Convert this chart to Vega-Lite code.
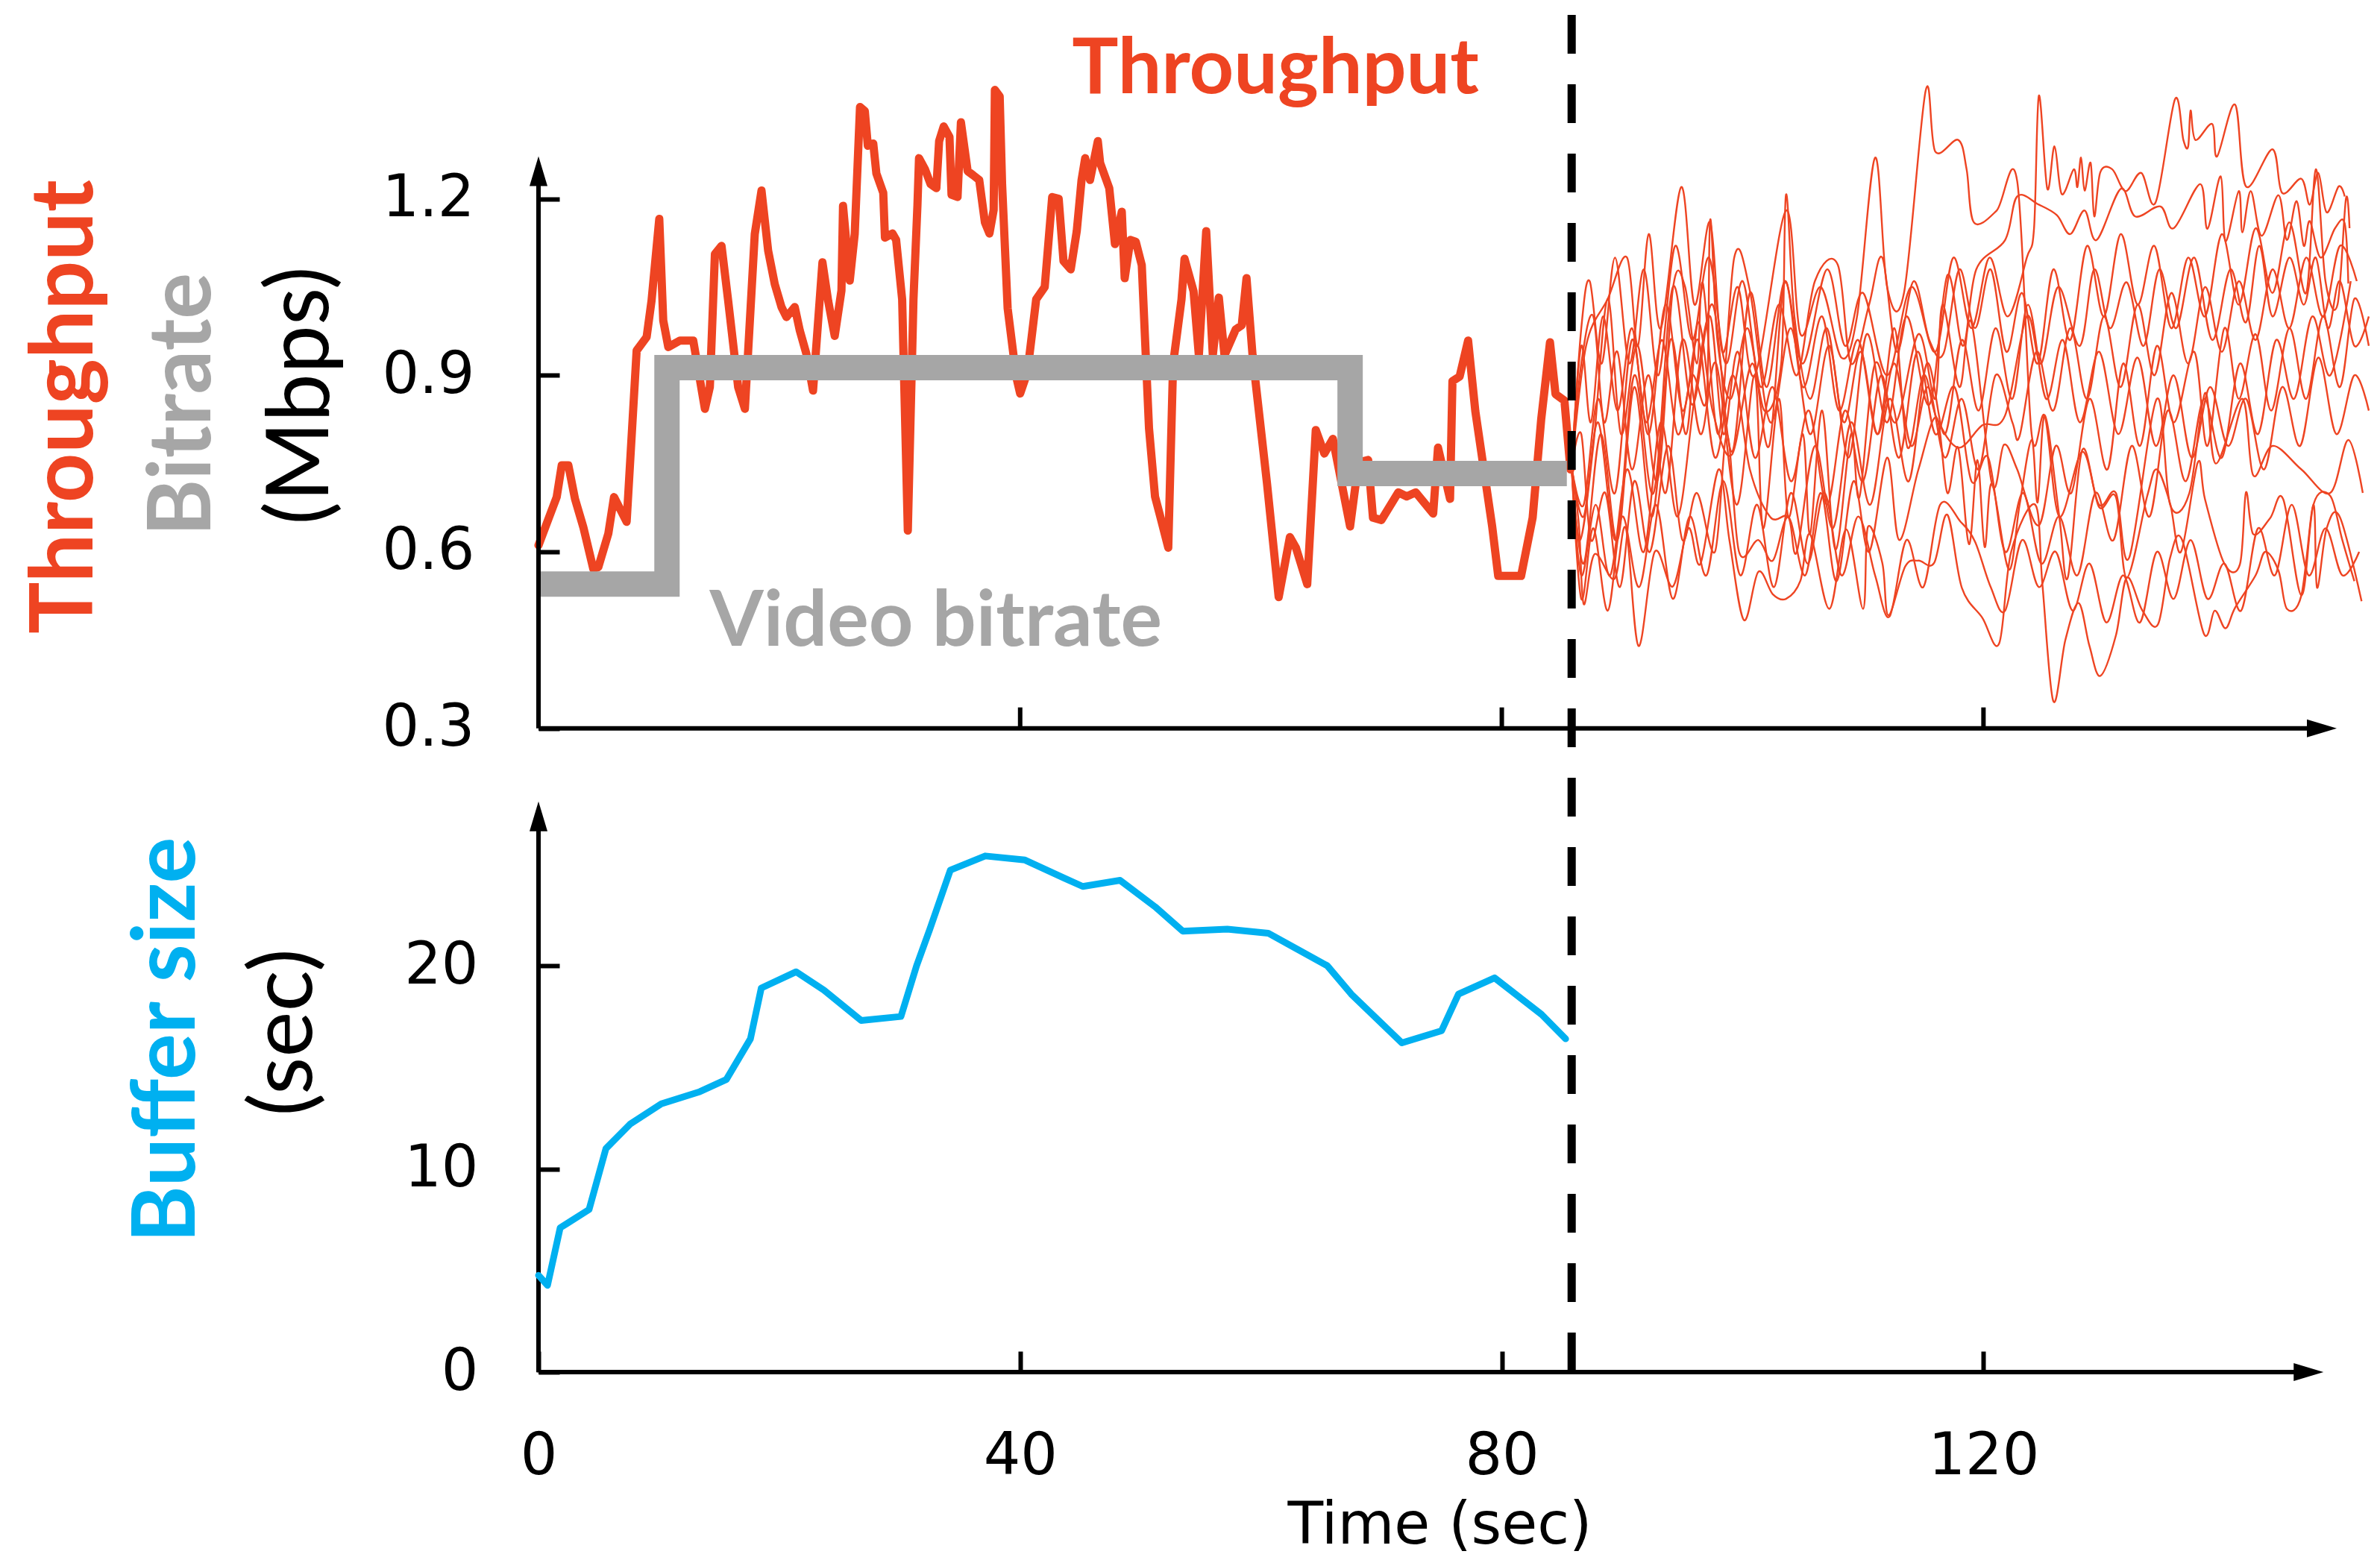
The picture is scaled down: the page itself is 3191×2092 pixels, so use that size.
{
"$schema":"https://vega.github.io/schema/vega-lite/v6.json",
"width":2469,"height":1820,
"autosize":{"type":"none"},
"padding":{"left":722,"top":20,"right":0,"bottom":252},
"background":"white",
"config":{"view":{"stroke":null},"axis":{"grid":false}},
"datasets":{
"thr":[{"t":0,"v":0.611},{"t":0.68,"v":0.648},{"t":1.51,"v":0.693},{"t":1.93,"v":0.747},{"t":2.48,"v":0.747},{"t":3.03,"v":0.69},{"t":3.72,"v":0.642},{"t":4.55,"v":0.571},{"t":4.97,"v":0.574},{"t":5.8,"v":0.631},{"t":6.27,"v":0.693},{"t":7.32,"v":0.651},{"t":8.15,"v":0.942},{"t":8.98,"v":0.965},{"t":9.39,"v":1.027},{"t":10.03,"v":1.166},{"t":10.36,"v":0.993},{"t":10.78,"v":0.948},{"t":11.74,"v":0.959},{"t":12.85,"v":0.959},{"t":13.82,"v":0.843},{"t":14.23,"v":0.88},{"t":14.65,"v":1.106},{"t":15.2,"v":1.12},{"t":15.75,"v":1.027},{"t":16.58,"v":0.88},{"t":17.14,"v":0.843},{"t":17.96,"v":1.14},{"t":18.52,"v":1.214},{"t":19.07,"v":1.112},{"t":19.62,"v":1.055},{"t":20.18,"v":1.016},{"t":20.59,"v":0.999},{"t":21.28,"v":1.016},{"t":21.7,"v":0.976},{"t":22.25,"v":0.936},{"t":22.8,"v":0.874},{"t":23.58,"v":1.092},{"t":24.05,"v":1.027},{"t":24.6,"v":0.967},{"t":25.16,"v":1.044},{"t":25.29,"v":1.188},{"t":25.85,"v":1.061},{"t":26.26,"v":1.14},{"t":26.7,"v":1.356},{"t":27.1,"v":1.349},{"t":27.35,"v":1.29},{"t":27.8,"v":1.294},{"t":28.06,"v":1.243},{"t":28.63,"v":1.21},{"t":28.77,"v":1.134},{"t":29.4,"v":1.141},{"t":29.7,"v":1.13},{"t":30.2,"v":1.029},{"t":30.67,"v":0.636},{"t":31.14,"v":1.029},{"t":31.47,"v":1.189},{"t":31.6,"v":1.269},{"t":32.1,"v":1.25},{"t":32.56,"v":1.225},{"t":33.04,"v":1.218},{"t":33.27,"v":1.298},{"t":33.65,"v":1.323},{"t":34.13,"v":1.305},{"t":34.3,"v":1.207},{"t":34.8,"v":1.203},{"t":35.08,"v":1.33},{"t":35.64,"v":1.247},{"t":36.1,"v":1.24},{"t":36.6,"v":1.232},{"t":37.07,"v":1.16},{"t":37.45,"v":1.141},{"t":37.8,"v":1.181},{"t":37.9,"v":1.385},{"t":38.3,"v":1.374},{"t":38.5,"v":1.225},{"t":38.96,"v":1.014},{"t":39.67,"v":0.898},{"t":40,"v":0.869},{"t":40.6,"v":0.905},{"t":41.33,"v":1.029},{"t":42.04,"v":1.05},{"t":42.66,"v":1.203},{"t":43.2,"v":1.2},{"t":43.6,"v":1.094},{"t":44.2,"v":1.08},{"t":44.7,"v":1.145},{"t":45.1,"v":1.232},{"t":45.4,"v":1.269},{"t":45.8,"v":1.232},{"t":46.45,"v":1.298},{"t":46.64,"v":1.261},{"t":47.4,"v":1.218},{"t":47.87,"v":1.123},{"t":48.44,"v":1.178},{"t":48.68,"v":1.065},{"t":49.15,"v":1.13},{"t":49.6,"v":1.127},{"t":50.1,"v":1.087},{"t":50.7,"v":0.81},{"t":51.2,"v":0.694},{"t":51.66,"v":0.658},{"t":52.3,"v":0.607},{"t":52.7,"v":0.919},{"t":53.4,"v":1.029},{"t":53.65,"v":1.098},{"t":54.4,"v":1.043},{"t":54.84,"v":0.934},{"t":55.45,"v":1.145},{"t":56,"v":0.934},{"t":56.5,"v":1.032},{"t":56.97,"v":0.934},{"t":57.9,"v":0.978},{"t":58.4,"v":0.985},{"t":58.8,"v":1.065},{"t":59.3,"v":0.934},{"t":60.5,"v":0.716},{"t":61.47,"v":0.523},{"t":62.4,"v":0.625},{"t":62.9,"v":0.607},{"t":63.84,"v":0.545},{"t":64.55,"v":0.807},{"t":65.26,"v":0.767},{"t":65.97,"v":0.792},{"t":67.4,"v":0.643},{"t":68.1,"v":0.752},{"t":68.9,"v":0.756},{"t":69.3,"v":0.658},{"t":70,"v":0.654},{"t":71.4,"v":0.701},{"t":72.1,"v":0.694},{"t":72.85,"v":0.701},{"t":74.3,"v":0.665},{"t":74.7,"v":0.777},{"t":75.7,"v":0.69},{"t":75.9,"v":0.89},{"t":76.5,"v":0.898},{"t":77.2,"v":0.959},{"t":77.8,"v":0.839},{"t":79.2,"v":0.643},{"t":79.7,"v":0.559},{"t":81.6,"v":0.559},{"t":82.56,"v":0.658},{"t":83.27,"v":0.825},{"t":84,"v":0.956},{"t":84.46,"v":0.868},{"t":85.2,"v":0.857},{"t":85.7,"v":0.74}],
"buf":[{"t":0,"v":4.76},{"t":0.75,"v":4.27},{"t":1.8,"v":7.1},{"t":4.2,"v":8.0},{"t":5.6,"v":11.0},{"t":7.6,"v":12.2},{"t":10.2,"v":13.2},{"t":13.4,"v":13.8},{"t":15.6,"v":14.4},{"t":17.6,"v":16.4},{"t":18.5,"v":18.9},{"t":21.4,"v":19.7},{"t":23.7,"v":18.8},{"t":26.8,"v":17.3},{"t":30.1,"v":17.5},{"t":31.4,"v":20.0},{"t":32.5,"v":21.8},{"t":34.2,"v":24.7},{"t":37.1,"v":25.4},{"t":40.4,"v":25.2},{"t":43.7,"v":24.3},{"t":45.2,"v":23.9},{"t":48.3,"v":24.2},{"t":51.2,"v":22.9},{"t":53.5,"v":21.7},{"t":57.2,"v":21.8},{"t":60.6,"v":21.6},{"t":65.5,"v":20.0},{"t":67.5,"v":18.6},{"t":71.7,"v":16.2},{"t":75.0,"v":16.8},{"t":76.4,"v":18.6},{"t":79.4,"v":19.4},{"t":83.3,"v":17.6},{"t":85.3,"v":16.4}],
"bit":[{"t":0,"v":0.545},{"t":10.67,"v":0.913},{"t":67.4,"v":0.733},{"t":85.4,"v":0.733}],
"thin":[
{"run":1,"t":85.8,"v":0.744},{"run":1,"t":87.0,"v":0.95},{"run":1,"t":88.8,"v":1.03},{"run":1,"t":90.4,"v":1.1},{"run":1,"t":91.3,"v":0.95},{"run":1,"t":92.2,"v":1.14},{"run":1,"t":93.2,"v":0.98},{"run":1,"t":94.9,"v":1.22},{"run":1,"t":96.0,"v":1.02},{"run":1,"t":97.3,"v":1.16},{"run":1,"t":98.3,"v":0.94},{"run":1,"t":99.6,"v":1.05},{"run":1,"t":101.0,"v":0.9},{"run":1,"t":103.6,"v":1.18},{"run":1,"t":104.8,"v":0.97},{"run":1,"t":106.5,"v":1.05},{"run":1,"t":108.2,"v":0.93},{"run":1,"t":109.5,"v":1.0},{"run":1,"t":111.0,"v":1.27},{"run":1,"t":112.0,"v":1.05},{"run":1,"t":113.4,"v":1.04},{"run":1,"t":115.2,"v":1.384},{"run":1,"t":116.0,"v":1.28},{"run":1,"t":117.9,"v":1.3},{"run":1,"t":118.6,"v":1.25},{"run":1,"t":119.2,"v":1.16},{"run":1,"t":121.1,"v":1.18},{"run":1,"t":122.8,"v":1.23},{"run":1,"t":124.0,"v":0.8},{"run":1,"t":125.1,"v":0.83},{"run":1,"t":126.3,"v":0.66},{"run":1,"t":128.2,"v":0.77},{"run":1,"t":129.6,"v":0.68},{"run":1,"t":131.0,"v":0.7},{"run":1,"t":132.1,"v":0.59},{"run":1,"t":134.4,"v":0.86},{"run":1,"t":135.5,"v":0.68},{"run":1,"t":137.1,"v":0.7},{"run":1,"t":138.4,"v":0.87},{"run":1,"t":139.3,"v":0.75},{"run":1,"t":141.5,"v":0.86},{"run":1,"t":142.4,"v":0.73},{"run":1,"t":144.0,"v":0.78},{"run":1,"t":146.4,"v":0.74},{"run":1,"t":148.8,"v":0.7},{"run":1,"t":150.3,"v":0.79},{"run":1,"t":151.5,"v":0.7},
{"run":2,"t":85.8,"v":0.744},{"run":2,"t":86.8,"v":0.66},{"run":2,"t":88.0,"v":0.82},{"run":2,"t":89.5,"v":0.62},{"run":2,"t":91.0,"v":0.9},{"run":2,"t":92.6,"v":0.7},{"run":2,"t":94.2,"v":1.05},{"run":2,"t":95.8,"v":0.85},{"run":2,"t":97.5,"v":1.02},{"run":2,"t":99.1,"v":0.77},{"run":2,"t":100.6,"v":1.04},{"run":2,"t":102.0,"v":0.88},{"run":2,"t":103.5,"v":1.06},{"run":2,"t":105.0,"v":0.92},{"run":2,"t":107.0,"v":1.08},{"run":2,"t":108.5,"v":0.95},{"run":2,"t":110.0,"v":1.04},{"run":2,"t":112.0,"v":0.9},{"run":2,"t":114.0,"v":1.05},{"run":2,"t":116.0,"v":0.94},{"run":2,"t":117.5,"v":1.1},{"run":2,"t":119.0,"v":0.98},{"run":2,"t":120.5,"v":1.1},{"run":2,"t":122.0,"v":1.0},{"run":2,"t":123.6,"v":1.1},{"run":2,"t":124.2,"v":1.15},{"run":2,"t":124.6,"v":1.375},{"run":2,"t":125.3,"v":1.217},{"run":2,"t":125.9,"v":1.289},{"run":2,"t":126.5,"v":1.208},{"run":2,"t":127.5,"v":1.25},{"run":2,"t":127.8,"v":1.22},{"run":2,"t":128.1,"v":1.27},{"run":2,"t":128.4,"v":1.214},{"run":2,"t":128.9,"v":1.261},{"run":2,"t":129.2,"v":1.17},{"run":2,"t":129.7,"v":1.245},{"run":2,"t":130.7,"v":1.25},{"run":2,"t":131.8,"v":1.213},{"run":2,"t":133.1,"v":1.244},{"run":2,"t":134.3,"v":1.194},{"run":2,"t":135.9,"v":1.369},{"run":2,"t":136.6,"v":1.3},{"run":2,"t":137.0,"v":1.289},{"run":2,"t":137.2,"v":1.35},{"run":2,"t":137.6,"v":1.3},{"run":2,"t":139.0,"v":1.327},{"run":2,"t":139.4,"v":1.272},{"run":2,"t":140.9,"v":1.36},{"run":2,"t":141.8,"v":1.221},{"run":2,"t":144.0,"v":1.284},{"run":2,"t":144.8,"v":1.21},{"run":2,"t":146.4,"v":1.234},{"run":2,"t":147.1,"v":1.19},{"run":2,"t":147.8,"v":1.244},{"run":2,"t":148.5,"v":1.177},{"run":2,"t":149.5,"v":1.221},{"run":2,"t":150.0,"v":1.204},
{"run":3,"t":85.8,"v":0.744},{"run":3,"t":86.5,"v":0.62},{"run":3,"t":87.6,"v":0.78},{"run":3,"t":88.8,"v":1.03},{"run":3,"t":89.9,"v":0.8},{"run":3,"t":91.3,"v":0.95},{"run":3,"t":92.9,"v":0.72},{"run":3,"t":94.2,"v":1.046},{"run":3,"t":95.2,"v":1.052},{"run":3,"t":96.2,"v":0.92},{"run":3,"t":96.7,"v":1.056},{"run":3,"t":98.0,"v":0.8},{"run":3,"t":99.3,"v":1.1},{"run":3,"t":100.6,"v":1.044},{"run":3,"t":102.3,"v":0.82},{"run":3,"t":104.0,"v":0.98},{"run":3,"t":105.6,"v":0.8},{"run":3,"t":107.2,"v":0.95},{"run":3,"t":108.8,"v":0.76},{"run":3,"t":110.3,"v":0.97},{"run":3,"t":112.0,"v":0.82},{"run":3,"t":113.6,"v":1.0},{"run":3,"t":115.5,"v":0.85},{"run":3,"t":117.0,"v":1.07},{"run":3,"t":118.3,"v":0.95},{"run":3,"t":119.4,"v":1.08},{"run":3,"t":121.8,"v":1.13},{"run":3,"t":122.8,"v":1.204},{"run":3,"t":124.6,"v":1.19},{"run":3,"t":126.1,"v":1.172},{"run":3,"t":127.2,"v":1.14},{"run":3,"t":128.4,"v":1.18},{"run":3,"t":129.4,"v":1.13},{"run":3,"t":131.4,"v":1.217},{"run":3,"t":132.6,"v":1.17},{"run":3,"t":134.7,"v":1.187},{"run":3,"t":135.8,"v":1.15},{"run":3,"t":138.0,"v":1.225},{"run":3,"t":138.6,"v":1.149},{"run":3,"t":139.7,"v":1.238},{"run":3,"t":140.1,"v":1.128},{"run":3,"t":141.2,"v":1.213},{"run":3,"t":141.5,"v":1.143},{"run":3,"t":142.2,"v":1.213},{"run":3,"t":143.1,"v":1.137},{"run":3,"t":144.5,"v":1.206},{"run":3,"t":145.2,"v":1.13},{"run":3,"t":146.0,"v":1.196},{"run":3,"t":146.6,"v":1.12},{"run":3,"t":147.1,"v":1.162},{"run":3,"t":148.0,"v":1.1},{"run":3,"t":149.2,"v":1.15},{"run":3,"t":150.0,"v":1.158},{"run":3,"t":150.3,"v":1.056},
{"run":4,"t":85.8,"v":0.744},{"run":4,"t":86.8,"v":0.58},{"run":4,"t":88.2,"v":0.8},{"run":4,"t":89.6,"v":0.62},{"run":4,"t":91.0,"v":0.88},{"run":4,"t":92.5,"v":0.66},{"run":4,"t":94.0,"v":0.96},{"run":4,"t":95.3,"v":0.8},{"run":4,"t":96.3,"v":0.99},{"run":4,"t":97.5,"v":0.84},{"run":4,"t":99.1,"v":0.765},{"run":4,"t":100.8,"v":0.92},{"run":4,"t":102.2,"v":0.78},{"run":4,"t":103.5,"v":1.058},{"run":4,"t":105.0,"v":0.88},{"run":4,"t":106.6,"v":1.0},{"run":4,"t":108.0,"v":0.84},{"run":4,"t":109.6,"v":0.96},{"run":4,"t":111.2,"v":0.8},{"run":4,"t":112.6,"v":0.98},{"run":4,"t":113.7,"v":0.777},{"run":4,"t":115.0,"v":0.9},{"run":4,"t":116.1,"v":0.828},{"run":4,"t":117.9,"v":0.777},{"run":4,"t":119.9,"v":0.815},{"run":4,"t":121.8,"v":0.832},{"run":4,"t":123.6,"v":1.0},{"run":4,"t":124.8,"v":0.92},{"run":4,"t":126.2,"v":1.05},{"run":4,"t":128.0,"v":0.95},{"run":4,"t":129.2,"v":1.08},{"run":4,"t":130.5,"v":0.98},{"run":4,"t":131.9,"v":1.058},{"run":4,"t":133.3,"v":0.95},{"run":4,"t":134.6,"v":1.08},{"run":4,"t":136.0,"v":0.98},{"run":4,"t":137.5,"v":1.1},{"run":4,"t":139.0,"v":0.96},{"run":4,"t":140.5,"v":1.08},{"run":4,"t":141.8,"v":0.99},{"run":4,"t":142.9,"v":1.12},{"run":4,"t":144.0,"v":1.0},{"run":4,"t":145.4,"v":1.1},{"run":4,"t":146.6,"v":1.02},{"run":4,"t":147.6,"v":1.1},{"run":4,"t":148.6,"v":0.98},{"run":4,"t":149.6,"v":1.06},{"run":4,"t":150.8,"v":0.95},{"run":4,"t":152.0,"v":1.0},
{"run":5,"t":85.8,"v":0.744},{"run":5,"t":86.6,"v":0.92},{"run":5,"t":87.6,"v":1.0},{"run":5,"t":88.5,"v":0.82},{"run":5,"t":89.6,"v":0.94},{"run":5,"t":90.8,"v":0.74},{"run":5,"t":92.2,"v":0.9},{"run":5,"t":93.6,"v":0.7},{"run":5,"t":95.0,"v":0.96},{"run":5,"t":96.5,"v":0.8},{"run":5,"t":97.8,"v":0.92},{"run":5,"t":99.5,"v":0.68},{"run":5,"t":101.0,"v":0.9},{"run":5,"t":101.7,"v":0.64},{"run":5,"t":103.0,"v":0.86},{"run":5,"t":103.8,"v":0.659},{"run":5,"t":105.0,"v":0.8},{"run":5,"t":105.6,"v":0.63},{"run":5,"t":106.6,"v":0.84},{"run":5,"t":107.7,"v":0.604},{"run":5,"t":109.0,"v":0.8},{"run":5,"t":109.7,"v":0.693},{"run":5,"t":111.0,"v":0.92},{"run":5,"t":112.7,"v":0.82},{"run":5,"t":114.6,"v":0.97},{"run":5,"t":116.0,"v":0.86},{"run":5,"t":116.6,"v":1.02},{"run":5,"t":118.0,"v":0.88},{"run":5,"t":119.0,"v":0.99},{"run":5,"t":120.7,"v":0.716},{"run":5,"t":121.7,"v":0.782},{"run":5,"t":122.8,"v":0.74},{"run":5,"t":124.6,"v":0.645},{"run":5,"t":126.0,"v":0.78},{"run":5,"t":127.3,"v":0.7},{"run":5,"t":128.8,"v":0.86},{"run":5,"t":130.3,"v":0.74},{"run":5,"t":131.6,"v":0.92},{"run":5,"t":133.0,"v":0.78},{"run":5,"t":134.4,"v":0.95},{"run":5,"t":135.8,"v":0.82},{"run":5,"t":137.5,"v":0.94},{"run":5,"t":138.6,"v":0.78},{"run":5,"t":140.0,"v":0.98},{"run":5,"t":141.2,"v":0.86},{"run":5,"t":142.6,"v":0.97},{"run":5,"t":143.9,"v":0.84},{"run":5,"t":145.4,"v":0.98},{"run":5,"t":146.8,"v":0.86},{"run":5,"t":148.2,"v":1.0},{"run":5,"t":149.6,"v":0.88},{"run":5,"t":150.8,"v":1.03},{"run":5,"t":152.0,"v":0.95},
{"run":6,"t":85.8,"v":0.744},{"run":6,"t":86.4,"v":0.646},{"run":6,"t":86.8,"v":0.511},{"run":6,"t":87.7,"v":0.596},{"run":6,"t":89.35,"v":0.554},{"run":6,"t":90.3,"v":0.64},{"run":6,"t":91.35,"v":0.44},{"run":6,"t":92.7,"v":0.6},{"run":6,"t":94.2,"v":0.541},{"run":6,"t":95.5,"v":0.64},{"run":6,"t":96.5,"v":0.58},{"run":6,"t":98.0,"v":0.74},{"run":6,"t":98.9,"v":0.62},{"run":6,"t":100.1,"v":0.484},{"run":6,"t":101.3,"v":0.566},{"run":6,"t":102.5,"v":0.528},{"run":6,"t":103.6,"v":0.52},{"run":6,"t":104.8,"v":0.551},{"run":6,"t":105.6,"v":0.63},{"run":6,"t":107.2,"v":0.503},{"run":6,"t":108.6,"v":0.638},{"run":6,"t":110.0,"v":0.503},{"run":6,"t":110.4,"v":0.642},{"run":6,"t":111.6,"v":0.581},{"run":6,"t":112.1,"v":0.492},{"run":6,"t":113.5,"v":0.575},{"run":6,"t":114.6,"v":0.585},{"run":6,"t":115.9,"v":0.581},{"run":6,"t":117.0,"v":0.663},{"run":6,"t":118.2,"v":0.539},{"run":6,"t":119.9,"v":0.488},{"run":6,"t":121.3,"v":0.444},{"run":6,"t":122.3,"v":0.6},{"run":6,"t":124.3,"v":0.68},{"run":6,"t":124.9,"v":0.543},{"run":6,"t":125.8,"v":0.346},{"run":6,"t":126.8,"v":0.45},{"run":6,"t":127.9,"v":0.513},{"run":6,"t":128.8,"v":0.44},{"run":6,"t":129.7,"v":0.389},{"run":6,"t":131.0,"v":0.458},{"run":6,"t":131.9,"v":0.556},{"run":6,"t":133.2,"v":0.5},{"run":6,"t":134.5,"v":0.477},{"run":6,"t":135.5,"v":0.59},{"run":6,"t":136.5,"v":0.62},{"run":6,"t":138.3,"v":0.461},{"run":6,"t":139.2,"v":0.5},{"run":6,"t":140.1,"v":0.47},{"run":6,"t":140.9,"v":0.505},{"run":6,"t":142.6,"v":0.56},{"run":6,"t":143.4,"v":0.6},{"run":6,"t":144.5,"v":0.568},{"run":6,"t":145.2,"v":0.503},{"run":6,"t":146.4,"v":0.526},{"run":6,"t":147.4,"v":0.68},{"run":6,"t":147.7,"v":0.539},{"run":6,"t":148.5,"v":0.64},{"run":6,"t":149.6,"v":0.659},{"run":6,"t":151.4,"v":0.516},
{"run":7,"t":85.8,"v":0.744},{"run":7,"t":86.6,"v":0.8},{"run":7,"t":87.4,"v":0.62},{"run":7,"t":88.6,"v":0.7},{"run":7,"t":89.8,"v":0.54},{"run":7,"t":91.0,"v":0.72},{"run":7,"t":92.3,"v":0.6},{"run":7,"t":93.8,"v":0.78},{"run":7,"t":95.0,"v":0.62},{"run":7,"t":96.2,"v":0.7},{"run":7,"t":97.7,"v":0.6},{"run":7,"t":98.7,"v":0.8},{"run":7,"t":99.7,"v":0.6},{"run":7,"t":101.3,"v":0.62},{"run":7,"t":102.5,"v":0.585},{"run":7,"t":103.8,"v":0.659},{"run":7,"t":105.2,"v":0.56},{"run":7,"t":106.5,"v":0.7},{"run":7,"t":107.8,"v":0.55},{"run":7,"t":109.2,"v":0.72},{"run":7,"t":110.5,"v":0.6},{"run":7,"t":112.0,"v":0.76},{"run":7,"t":113.0,"v":0.62},{"run":7,"t":114.6,"v":0.74},{"run":7,"t":116.1,"v":0.828},{"run":7,"t":117.0,"v":0.7},{"run":7,"t":117.9,"v":0.777},{"run":7,"t":118.8,"v":0.613},{"run":7,"t":119.5,"v":0.756},{"run":7,"t":120.1,"v":0.608},{"run":7,"t":120.7,"v":0.716},{"run":7,"t":122.1,"v":0.57},{"run":7,"t":123.0,"v":0.68},{"run":7,"t":124.0,"v":0.79},{"run":7,"t":124.5,"v":0.684},{"run":7,"t":125.1,"v":0.832},{"run":7,"t":126.3,"v":0.659},{"run":7,"t":127.0,"v":0.556},{"run":7,"t":128.2,"v":0.773},{"run":7,"t":129.6,"v":0.676},{"run":7,"t":131.0,"v":0.693},{"run":7,"t":131.9,"v":0.556},{"run":7,"t":133.6,"v":0.695},{"run":7,"t":134.4,"v":0.74},{"run":7,"t":135.5,"v":0.682},{"run":7,"t":136.4,"v":0.6},{"run":7,"t":137.8,"v":0.752},{"run":7,"t":138.4,"v":0.689},{"run":7,"t":140.0,"v":0.58},{"run":7,"t":141.3,"v":0.579},{"run":7,"t":141.8,"v":0.701},{"run":7,"t":142.4,"v":0.63},{"run":7,"t":143.8,"v":0.657},{"run":7,"t":144.9,"v":0.689},{"run":7,"t":146.4,"v":0.526},{"run":7,"t":147.4,"v":0.68},{"run":7,"t":148.8,"v":0.695},{"run":7,"t":149.8,"v":0.62},{"run":7,"t":150.8,"v":0.55},
{"run":8,"t":85.8,"v":0.744},{"run":8,"t":86.8,"v":0.68},{"run":8,"t":88.0,"v":0.86},{"run":8,"t":89.4,"v":0.7},{"run":8,"t":90.8,"v":0.96},{"run":8,"t":92.2,"v":0.8},{"run":8,"t":93.6,"v":1.02},{"run":8,"t":95.0,"v":0.84},{"run":8,"t":96.3,"v":0.96},{"run":8,"t":97.7,"v":0.76},{"run":8,"t":99.2,"v":0.9},{"run":8,"t":100.6,"v":0.74},{"run":8,"t":102.3,"v":0.659},{"run":8,"t":103.8,"v":0.659},{"run":8,"t":104.5,"v":0.6},{"run":8,"t":106.0,"v":0.78},{"run":8,"t":107.5,"v":0.64},{"run":8,"t":109.0,"v":0.82},{"run":8,"t":110.6,"v":0.68},{"run":8,"t":112.2,"v":0.86},{"run":8,"t":113.8,"v":0.72},{"run":8,"t":115.3,"v":0.92},{"run":8,"t":116.8,"v":0.8},{"run":8,"t":118.2,"v":0.96},{"run":8,"t":119.6,"v":0.84},{"run":8,"t":121.0,"v":0.98},{"run":8,"t":122.4,"v":0.86},{"run":8,"t":123.7,"v":1.02},{"run":8,"t":125.2,"v":0.86},{"run":8,"t":126.6,"v":0.96},{"run":8,"t":128.0,"v":0.82},{"run":8,"t":129.6,"v":0.94},{"run":8,"t":131.2,"v":0.8},{"run":8,"t":132.8,"v":0.93},{"run":8,"t":134.3,"v":0.78},{"run":8,"t":135.8,"v":0.9},{"run":8,"t":137.3,"v":0.76},{"run":8,"t":138.8,"v":0.88},{"run":8,"t":140.3,"v":0.78},{"run":8,"t":141.8,"v":0.86},{"run":8,"t":143.3,"v":0.74},{"run":8,"t":144.8,"v":0.88},{"run":8,"t":146.3,"v":0.78},{"run":8,"t":147.8,"v":0.93},{"run":8,"t":149.3,"v":0.8},{"run":8,"t":150.8,"v":0.9},{"run":8,"t":152.0,"v":0.84},
{"run":9,"t":85.8,"v":0.744},{"run":9,"t":86.6,"v":0.98},{"run":9,"t":87.3,"v":1.06},{"run":9,"t":88.3,"v":0.92},{"run":9,"t":89.4,"v":1.1},{"run":9,"t":90.6,"v":0.92},{"run":9,"t":91.8,"v":1.08},{"run":9,"t":93.0,"v":0.9},{"run":9,"t":94.4,"v":1.12},{"run":9,"t":95.8,"v":0.96},{"run":9,"t":97.2,"v":1.1},{"run":9,"t":98.6,"v":0.92},{"run":9,"t":100.0,"v":1.06},{"run":9,"t":101.5,"v":0.88},{"run":9,"t":103.0,"v":1.02},{"run":9,"t":104.5,"v":0.9},{"run":9,"t":106.0,"v":1.06},{"run":9,"t":107.9,"v":1.088},{"run":9,"t":109.0,"v":0.92},{"run":9,"t":110.5,"v":1.02},{"run":9,"t":111.6,"v":1.1},{"run":9,"t":112.8,"v":0.94},{"run":9,"t":114.2,"v":1.06},{"run":9,"t":115.5,"v":0.96},{"run":9,"t":116.7,"v":0.938},{"run":9,"t":118.0,"v":1.08},{"run":9,"t":119.3,"v":0.98},{"run":9,"t":120.6,"v":1.08},{"run":9,"t":121.9,"v":0.94},{"run":9,"t":123.2,"v":1.04},{"run":9,"t":124.5,"v":0.92},{"run":9,"t":125.8,"v":1.08},{"run":9,"t":127.2,"v":0.96},{"run":9,"t":128.6,"v":1.12},{"run":9,"t":130.0,"v":1.0},{"run":9,"t":131.4,"v":1.14},{"run":9,"t":132.8,"v":1.02},{"run":9,"t":134.2,"v":1.12},{"run":9,"t":135.6,"v":0.98},{"run":9,"t":137.0,"v":1.1},{"run":9,"t":138.4,"v":1.0},{"run":9,"t":139.8,"v":1.14},{"run":9,"t":141.2,"v":1.02},{"run":9,"t":142.6,"v":1.15},{"run":9,"t":144.0,"v":1.04},{"run":9,"t":145.4,"v":1.16},{"run":9,"t":146.8,"v":1.04},{"run":9,"t":147.6,"v":1.25},{"run":9,"t":148.4,"v":1.06},{"run":9,"t":149.4,"v":1.02},{"run":9,"t":150.1,"v":1.2},{"run":9,"t":150.4,"v":1.15},
{"run":10,"t":85.8,"v":0.744},{"run":10,"t":86.6,"v":0.56},{"run":10,"t":87.8,"v":0.68},{"run":10,"t":89.0,"v":0.56},{"run":10,"t":90.4,"v":0.74},{"run":10,"t":91.8,"v":0.6},{"run":10,"t":93.2,"v":0.82},{"run":10,"t":94.6,"v":0.66},{"run":10,"t":96.0,"v":0.86},{"run":10,"t":97.3,"v":1.0},{"run":10,"t":98.4,"v":0.8},{"run":10,"t":99.6,"v":0.94},{"run":10,"t":101.0,"v":0.76},{"run":10,"t":102.5,"v":0.88},{"run":10,"t":104.0,"v":0.72},{"run":10,"t":105.5,"v":0.84},{"run":10,"t":107.0,"v":0.68},{"run":10,"t":108.5,"v":0.84},{"run":10,"t":110.0,"v":0.72},{"run":10,"t":111.5,"v":0.9},{"run":10,"t":113.0,"v":0.76},{"run":10,"t":114.5,"v":0.94},{"run":10,"t":116.0,"v":0.8},{"run":10,"t":117.6,"v":0.88},{"run":10,"t":119.0,"v":0.72},{"run":10,"t":120.4,"v":0.76},{"run":10,"t":121.8,"v":0.6},{"run":10,"t":123.3,"v":0.7},{"run":10,"t":124.8,"v":0.58},{"run":10,"t":126.3,"v":0.66},{"run":10,"t":127.8,"v":0.56},{"run":10,"t":129.3,"v":0.7},{"run":10,"t":130.8,"v":0.62},{"run":10,"t":132.3,"v":0.78},{"run":10,"t":133.8,"v":0.66},{"run":10,"t":135.3,"v":0.84},{"run":10,"t":136.8,"v":0.72},{"run":10,"t":138.3,"v":0.86},{"run":10,"t":139.8,"v":0.76},{"run":10,"t":141.3,"v":0.92},{"run":10,"t":142.8,"v":0.8},{"run":10,"t":144.3,"v":0.96},{"run":10,"t":145.8,"v":0.86},{"run":10,"t":147.3,"v":1.0},{"run":10,"t":148.8,"v":0.9},{"run":10,"t":150.5,"v":1.06},
{"run":11,"t":85.8,"v":0.744},{"run":11,"t":86.6,"v":0.52},{"run":11,"t":87.6,"v":0.64},{"run":11,"t":88.8,"v":0.5},{"run":11,"t":90.0,"v":0.66},{"run":11,"t":91.4,"v":0.54},{"run":11,"t":92.8,"v":0.68},{"run":11,"t":94.2,"v":0.52},{"run":11,"t":95.6,"v":0.66},{"run":11,"t":97.0,"v":0.56},{"run":11,"t":98.4,"v":0.72},{"run":11,"t":99.8,"v":0.56},{"run":11,"t":101.2,"v":0.68},{"run":11,"t":102.6,"v":0.54},{"run":11,"t":104.0,"v":0.7},{"run":11,"t":105.4,"v":0.58},{"run":11,"t":106.8,"v":0.7},{"run":11,"t":108.2,"v":0.56},{"run":11,"t":109.6,"v":0.66},{"run":11,"t":111.0,"v":0.56},{"run":11,"t":112.2,"v":0.49},{"run":11,"t":113.6,"v":0.62},{"run":11,"t":115.0,"v":0.54},{"run":11,"t":116.4,"v":0.68},{"run":11,"t":118.1,"v":0.651},{"run":11,"t":119.3,"v":0.617},{"run":11,"t":120.6,"v":0.54},{"run":11,"t":121.8,"v":0.5},{"run":11,"t":123.2,"v":0.62},{"run":11,"t":124.6,"v":0.54},{"run":11,"t":126.0,"v":0.6},{"run":11,"t":127.4,"v":0.5},{"run":11,"t":128.8,"v":0.58},{"run":11,"t":130.2,"v":0.48},{"run":11,"t":131.6,"v":0.56},{"run":11,"t":133.0,"v":0.48},{"run":11,"t":134.4,"v":0.6},{"run":11,"t":135.8,"v":0.52},{"run":11,"t":137.2,"v":0.62},{"run":11,"t":138.6,"v":0.52},{"run":11,"t":140.0,"v":0.58},{"run":11,"t":141.4,"v":0.5},{"run":11,"t":142.8,"v":0.64},{"run":11,"t":144.2,"v":0.56},{"run":11,"t":145.6,"v":0.68},{"run":11,"t":147.0,"v":0.56},{"run":11,"t":148.4,"v":0.64},{"run":11,"t":149.8,"v":0.56},{"run":11,"t":151.2,"v":0.6},
{"run":12,"t":85.8,"v":0.744},{"run":12,"t":86.6,"v":0.95},{"run":12,"t":87.4,"v":0.82},{"run":12,"t":88.4,"v":1.0},{"run":12,"t":89.6,"v":0.84},{"run":12,"t":90.8,"v":0.98},{"run":12,"t":92.0,"v":0.82},{"run":12,"t":93.3,"v":0.96},{"run":12,"t":94.6,"v":0.8},{"run":12,"t":95.8,"v":0.9},{"run":12,"t":97.0,"v":0.86},{"run":12,"t":97.3,"v":1.164},{"run":12,"t":97.9,"v":0.96},{"run":12,"t":99.0,"v":0.86},{"run":12,"t":100.4,"v":0.98},{"run":12,"t":101.8,"v":0.84},{"run":12,"t":103.2,"v":0.92},{"run":12,"t":103.6,"v":1.207},{"run":12,"t":104.3,"v":1.0},{"run":12,"t":105.6,"v":0.86},{"run":12,"t":107.0,"v":0.98},{"run":12,"t":108.4,"v":0.82},{"run":12,"t":109.8,"v":0.94},{"run":12,"t":111.2,"v":0.8},{"run":12,"t":112.6,"v":0.92},{"run":12,"t":114.0,"v":0.78},{"run":12,"t":115.4,"v":0.88},{"run":12,"t":116.8,"v":0.76},{"run":12,"t":118.2,"v":0.86},{"run":12,"t":119.6,"v":0.74},{"run":12,"t":121.0,"v":0.9},{"run":12,"t":122.4,"v":0.82},{"run":12,"t":123.0,"v":0.797},{"run":12,"t":124.4,"v":0.94},{"run":12,"t":125.8,"v":0.84},{"run":12,"t":127.2,"v":0.98},{"run":12,"t":128.6,"v":0.86},{"run":12,"t":130.0,"v":1.0},{"run":12,"t":131.4,"v":0.88},{"run":12,"t":132.8,"v":1.02},{"run":12,"t":134.2,"v":0.9},{"run":12,"t":135.6,"v":1.04},{"run":12,"t":137.0,"v":0.92},{"run":12,"t":138.4,"v":1.05},{"run":12,"t":139.8,"v":0.94},{"run":12,"t":141.2,"v":1.06},{"run":12,"t":142.6,"v":0.96},{"run":12,"t":144.0,"v":1.08},{"run":12,"t":145.4,"v":0.98},{"run":12,"t":146.8,"v":1.1},{"run":12,"t":148.2,"v":1.0},{"run":12,"t":149.6,"v":1.12},{"run":12,"t":151.0,"v":1.06}
],
"topaxes":[{"t0":0,"t1":148.1,"v0":0.3,"v1":0.3},{"t0":0,"t1":0,"v0":0.3,"v1":1.247}],
"botaxes":[{"t0":0,"t1":147.0,"v0":0,"v1":0},{"t0":0,"t1":0,"v0":0,"v1":27.35}],
"arrowsTop":[{"t":148.1,"v":0.3,"dir":"right"},{"t":0,"v":1.247,"dir":"up"}],
"arrowsBot":[{"t":147.0,"v":0,"dir":"right"},{"t":0,"v":27.35,"dir":"up"}],
"xticks":[{"t":40},{"t":80},{"t":120}],
"notes":[{"label":"Throughput","t":61.2,"v":1.3795},{"label":"Video bitrate","t":33.0,"v":0.4403}]
},
"resolve":{"scale":{"y":"independent"},"axis":{"y":"independent"}},
"layer":[
{"data":{"name":"thin"},
 "mark":{"type":"line","color":"#EE4422","strokeWidth":2.4,"interpolate":"cardinal"},
 "encoding":{
  "x":{"field":"t","type":"quantitative","scale":{"domain":[0,152.93],"nice":false,"zero":false}},
  "y":{"field":"v","type":"quantitative","scale":{"domain":[-0.7942,1.5125],"nice":false,"zero":false},
   "axis":{"orient":"left","labels":false,"ticks":false,"domain":false,"grid":false,"title":"Throughput","titleColor":"#EE4422","titleFont":"Lato","titleFontWeight":"bold","titleFontSize":116,"titleX":-599,"titleY":525,"titleBaseline":"alphabetic","titleAngle":270,"titleAlign":"center"}},
  "detail":{"field":"run","type":"nominal"}}},
{"data":{"name":"thr"},
 "mark":{"type":"line","color":"#EE4422","strokeWidth":11,"strokeJoin":"round","strokeCap":"round"},
 "encoding":{
  "x":{"field":"t","type":"quantitative","scale":{"domain":[0,152.93],"nice":false,"zero":false}},
  "y":{"field":"v","type":"quantitative","scale":{"domain":[-0.7942,1.5125],"nice":false,"zero":false},
   "axis":{"orient":"left","values":[0.3,0.6,0.9,1.2],"format":".1f","domain":false,"grid":false,"ticks":true,"tickSize":-28,"tickWidth":6,"tickColor":"black","labelPadding":114,"labelFont":"DejaVu Sans","labelFontSize":78,"labelColor":"black","labelFlush":false,"labelOverlap":false,"title":"(Mbps)","titleFont":"Lato","titleFontWeight":"normal","titleFontSize":116,"titleColor":"black","titleX":-283,"titleY":510,"titleBaseline":"alphabetic","titleAngle":270,"titleAlign":"center"}}}},
{"data":{"name":"bit"},
 "mark":{"type":"line","color":"#A6A6A6","strokeWidth":34,"interpolate":"step-after","strokeCap":"butt","strokeJoin":"miter"},
 "encoding":{
  "x":{"field":"t","type":"quantitative","scale":{"domain":[0,152.93],"nice":false,"zero":false}},
  "y":{"field":"v","type":"quantitative","scale":{"domain":[-0.7942,1.5125],"nice":false,"zero":false},
   "axis":{"orient":"left","labels":false,"ticks":false,"domain":false,"grid":false,"title":"Bitrate","titleColor":"#A6A6A6","titleFont":"Lato","titleFontWeight":"bold","titleFontSize":116,"titleX":-441,"titleY":522,"titleBaseline":"alphabetic","titleAngle":270,"titleAlign":"center"}}}},
{"data":{"name":"topaxes"},
 "mark":{"type":"rule","color":"black","strokeWidth":6},
 "encoding":{
  "x":{"field":"t0","type":"quantitative","scale":{"domain":[0,152.93],"nice":false,"zero":false}},
  "x2":{"field":"t1"},
  "y":{"field":"v0","type":"quantitative","scale":{"domain":[-0.7942,1.5125],"nice":false,"zero":false},"axis":null},
  "y2":{"field":"v1"}}},
{"data":{"name":"xticks"},
 "mark":{"type":"rule","color":"black","strokeWidth":6},
 "encoding":{
  "x":{"field":"t","type":"quantitative","scale":{"domain":[0,152.93],"nice":false,"zero":false}},
  "y":{"datum":0.3,"type":"quantitative","scale":{"domain":[-0.7942,1.5125],"nice":false,"zero":false},"axis":null},
  "y2":{"datum":0.3355}}},
{"data":{"name":"arrowsTop"},
 "mark":{"type":"point","filled":true,"color":"black","opacity":1,"size":1600,"strokeWidth":0},
 "encoding":{
  "x":{"field":"t","type":"quantitative","scale":{"domain":[0,152.93],"nice":false,"zero":false}},
  "y":{"field":"v","type":"quantitative","scale":{"domain":[-0.7942,1.5125],"nice":false,"zero":false},"axis":null},
  "shape":{"field":"dir","type":"nominal","scale":{"domain":["up","right"],"range":["M-0.6,1L0,-1L0.6,1Z","M-1,-0.6L1,0L-1,0.6Z"]},"legend":null}}},
{"data":{"name":"botaxes"},
 "mark":{"type":"rule","color":"black","strokeWidth":6},
 "encoding":{
  "x":{"field":"t0","type":"quantitative","scale":{"domain":[0,152.93],"nice":false,"zero":false}},
  "x2":{"field":"t1"},
  "y":{"field":"v0","type":"quantitative","scale":{"domain":[0,66.79],"nice":false,"zero":false},
   "axis":{"orient":"left","labels":false,"ticks":false,"domain":false,"grid":false,"title":"Buffer size","titleColor":"#00B0F0","titleFont":"Lato","titleFontWeight":"bold","titleFontSize":116,"titleX":-462,"titleY":1374,"titleBaseline":"alphabetic","titleAngle":270,"titleAlign":"center"}},
  "y2":{"field":"v1"}}},
{"data":{"name":"arrowsBot"},
 "mark":{"type":"point","filled":true,"color":"black","opacity":1,"size":1600,"strokeWidth":0},
 "encoding":{
  "x":{"field":"t","type":"quantitative","scale":{"domain":[0,152.93],"nice":false,"zero":false}},
  "y":{"field":"v","type":"quantitative","scale":{"domain":[0,66.79],"nice":false,"zero":false},"axis":null},
  "shape":{"field":"dir","type":"nominal","scale":{"domain":["up","right"],"range":["M-0.6,1L0,-1L0.6,1Z","M-1,-0.6L1,0L-1,0.6Z"]},"legend":null}}},
{"data":{"name":"notes"},
 "mark":{"type":"text","font":"Lato","fontWeight":"bold","fontSize":104,"align":"center","baseline":"alphabetic"},
 "encoding":{
  "x":{"field":"t","type":"quantitative","scale":{"domain":[0,152.93],"nice":false,"zero":false}},
  "y":{"field":"v","type":"quantitative","scale":{"domain":[-0.7942,1.5125],"nice":false,"zero":false},"axis":null},
  "text":{"field":"label"},
  "color":{"field":"label","type":"nominal","scale":{"domain":["Throughput","Video bitrate"],"range":["#EE4422","#A6A6A6"]},"legend":null}}},
{"data":{"values":[{}]},
 "mark":{"type":"rule","color":"black","strokeWidth":11,"strokeDash":[52,41]},
 "encoding":{"x":{"datum":85.8,"type":"quantitative","scale":{"domain":[0,152.93],"nice":false,"zero":false}}}},
{"data":{"name":"buf"},
 "mark":{"type":"line","color":"#00B0F0","strokeWidth":9,"strokeJoin":"round","strokeCap":"round"},
 "encoding":{
  "x":{"field":"t","type":"quantitative","scale":{"domain":[0,152.93],"nice":false,"zero":false},
   "axis":{"orient":"bottom","values":[0,40,80,120],"domain":false,"grid":false,"ticks":true,"tickSize":-28,"tickWidth":6,"tickColor":"black","labels":true,"labelPadding":102,"labelFont":"DejaVu Sans","labelFontSize":78,"labelColor":"black","labelFlush":false,"labelOverlap":false,"title":"Time (sec)","titleFont":"DejaVu Sans","titleFontWeight":"normal","titleFontSize":78,"titleColor":"black","titleX":1208,"titleY":229,"titleBaseline":"alphabetic","titleAlign":"center"}},
  "y":{"field":"v","type":"quantitative","scale":{"domain":[0,66.79],"nice":false,"zero":false},
   "axis":{"orient":"left","values":[0,10,20],"domain":false,"grid":false,"tickSize":-28,"tickWidth":6,"tickColor":"black","labelPadding":109,"labelFont":"DejaVu Sans","labelFontSize":78,"labelColor":"black","labelFlush":false,"labelOverlap":false,"title":"(sec)","titleFont":"Lato","titleFontWeight":"normal","titleFontSize":116,"titleColor":"black","titleX":-305,"titleY":1364,"titleBaseline":"alphabetic","titleAngle":270,"titleAlign":"center"}}}}
]
}
